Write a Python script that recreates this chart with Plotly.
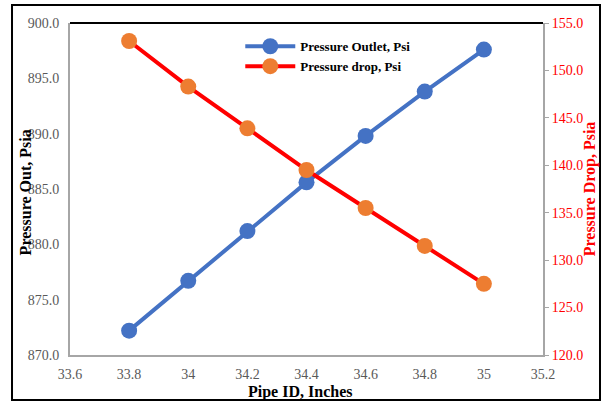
import plotly.graph_objects as go

pipe_id = [33.8, 34.0, 34.2, 34.4, 34.6, 34.8, 35.0]
pressure_outlet = [872.2, 876.7, 881.2, 885.6, 889.8, 893.8, 897.6]
pressure_drop = [153.1, 148.3, 143.9, 139.5, 135.5, 131.5, 127.5]
x_ticks = [33.6, 33.8, 34.0, 34.2, 34.4, 34.6, 34.8, 35.0, 35.2]
x_tick_text = ["33.6", "33.8", "34", "34.2", "34.4", "34.6", "34.8", "35", "35.2"]

FONT = "Liberation Serif, Times New Roman, serif"

fig = go.Figure()
fig.add_trace(go.Scatter(
    x=pipe_id, y=pressure_outlet, name="Pressure Outlet, Psi",
    mode="lines+markers",
    line=dict(color="#4472C4", width=4),
    marker=dict(color="#4472C4", size=16),
    yaxis="y"))
fig.add_trace(go.Scatter(
    x=pipe_id, y=pressure_drop, name="Pressure drop, Psi",
    mode="lines+markers",
    line=dict(color="#FF0000", width=4),
    marker=dict(color="#ED7D31", size=16),
    yaxis="y2"))

fig.update_layout(
    width=606, height=403,
    margin=dict(l=70, r=63, t=23, b=48),
    paper_bgcolor="white", plot_bgcolor="white",
    font=dict(family=FONT, size=14, color="#595959"),
    showlegend=True,
    legend=dict(x=0.36, y=0.975, xanchor="left", yanchor="top",
                bgcolor="rgba(0,0,0,0)",
                font=dict(family=FONT, size=13, color="black", weight="bold"),
                tracegroupgap=0, itemwidth=50),
    xaxis=dict(range=[33.6, 35.2], tickvals=x_ticks, ticktext=x_tick_text,
               showgrid=False, zeroline=False, showline=True,
               linecolor="#A6A6A6", linewidth=2, ticks="",
               ticklabelstandoff=5,
               tickfont=dict(size=14, color="#595959")),
    yaxis=dict(range=[870, 900], dtick=5, tickformat=".1f",
               showgrid=False, zeroline=False, showline=True,
               linecolor="#A6A6A6", linewidth=2, ticks="",
               ticklabelstandoff=6,
               tickfont=dict(size=14, color="#595959")),
    yaxis2=dict(range=[120, 155], dtick=5, tickformat=".1f",
                overlaying="y", side="right",
                showgrid=False, zeroline=False, showline=True,
                linecolor="#A6A6A6", linewidth=2, ticks="outside",
                ticklen=4, tickcolor="#A6A6A6",
                tickfont=dict(size=14, color="#FF0000")),
    annotations=[
        dict(text="<b>Pipe ID, Inches</b>", xref="paper", yref="paper",
             x=0.486, y=-0.112, xanchor="center", yanchor="middle",
             showarrow=False, font=dict(family=FONT, size=16, color="black")),
        dict(text="<b>Pressure Out, Psia</b>", xref="paper", yref="paper",
             x=-0.095, y=0.49, xanchor="center", yanchor="middle", textangle=-90,
             showarrow=False, font=dict(family=FONT, size=16, color="black")),
        dict(text="<b>Pressure Drop, Psia</b>", xref="paper", yref="paper",
             x=1.1, y=0.5, xanchor="center", yanchor="middle", textangle=-90,
             showarrow=False, font=dict(family=FONT, size=16, color="#FF0000")),
    ],
    shapes=[
        dict(type="line", xref="paper", yref="paper", x0=0, x1=1, y0=1, y1=1,
             line=dict(color="black", width=2)),
        dict(type="rect", xref="paper", yref="paper",
             x0=-0.1226, x1=1.1205, y0=-0.1355, y1=1.0542,
             line=dict(color="black", width=2), layer="above"),
    ],
)

fig.write_html("out.html")
